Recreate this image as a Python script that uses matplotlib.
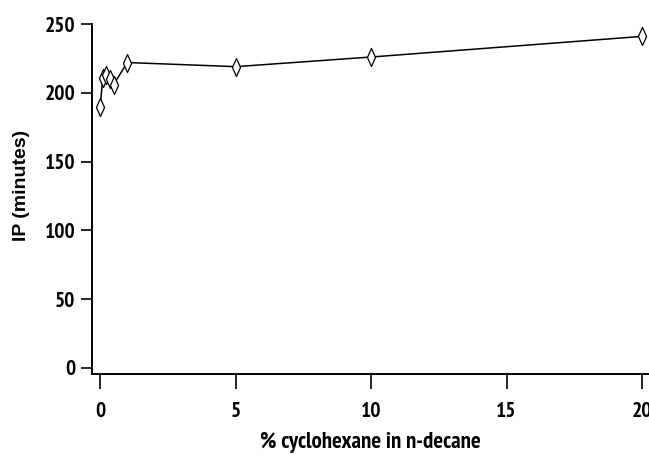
import numpy as np
import matplotlib.pyplot as plt
from matplotlib.path import Path

# % cyclohexane in n-decane vs induction period
pct_cyclohexane = [0, 0.1, 0.2, 0.35, 0.5, 1, 5, 10, 20]
ip_minutes = [190, 211, 213, 210, 206, 222, 219, 226, 241]

x_ticks = [0, 5, 10, 15, 20]
y_ticks = [0, 50, 100, 150, 200, 250]

narrow = ["PT Sans Narrow", "DejaVu Sans"]

# thin open diamond
diamond = Path([(0, 1), (0.45, 0), (0, -1), (-0.45, 0), (0, 1)],
               [Path.MOVETO, Path.LINETO, Path.LINETO, Path.LINETO, Path.CLOSEPOLY])

fig = plt.figure(figsize=(6.49, 4.57), dpi=100)
ax = fig.add_axes([92 / 649, 1 - 374 / 457, 556 / 649, 350 / 457])

ax.plot(pct_cyclohexane, ip_minutes, color="black", linewidth=1.1,
        marker=diamond, markersize=13, markerfacecolor="white",
        markeredgecolor="black", markeredgewidth=0.9)

ax.set_xlim(-0.3, 20.22)
ax.set_ylim(-4.4, 250)
ax.set_xticks(x_ticks)
ax.set_yticks(y_ticks)

for side in ["top", "right"]:
    ax.spines[side].set_visible(False)
for side in ["left", "bottom"]:
    ax.spines[side].set_linewidth(1.4)

ax.tick_params(axis="x", direction="out", length=11, width=1.2, pad=9)
ax.tick_params(axis="y", direction="out", length=8, width=1.2, pad=4)

for lab in ax.get_xticklabels() + ax.get_yticklabels():
    lab.set_family(narrow)
    lab.set_stretch("condensed")
    lab.set_fontweight("bold")
    lab.set_fontsize(15.5)

ax.set_xlabel("% cyclohexane in n-decane", family=narrow, stretch="condensed",
              fontweight="bold", fontsize=16.5, labelpad=8)
fig.text(22 / 649, 1 - 185 / 457, "IP (minutes)", rotation=90,
         family=["Liberation Sans", "DejaVu Sans"],
         fontweight="bold", fontsize=14, ha="center", va="center")

fig.savefig("out.png", dpi=100)
